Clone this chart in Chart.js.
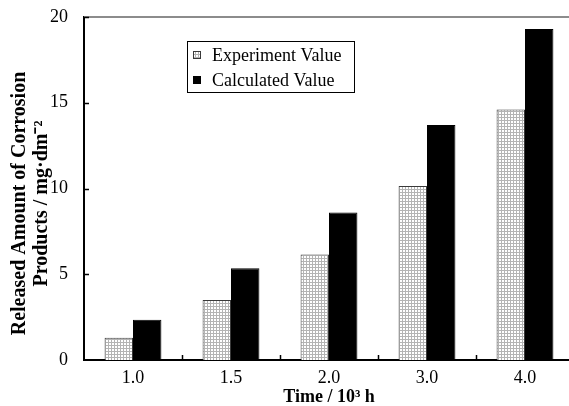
<!DOCTYPE html>
<html>
<head>
<meta charset="utf-8">
<script src="https://cdn.jsdelivr.net/npm/chart.js@4/dist/chart.umd.min.js"></script>
<style>
  html, body { margin: 0; padding: 0; background: #fff; overflow: hidden; }
  canvas { display: block; }
</style>
</head>
<body>
<canvas id="chart" width="574" height="406"></canvas>
<script>
const categories = ['1.0', '1.5', '2.0', '3.0', '4.0'];
const experimentValues = [1.3, 3.5, 6.15, 10.15, 14.6];
const calculatedValues = [2.35, 5.35, 8.6, 13.7, 19.3];
const yTicks = [0, 5, 10, 15, 20];

const serif = '"Liberation Serif", "Times New Roman", serif';

// fine grey grid hatch like the original
function gridPattern() {
  const c = document.createElement('canvas');
  c.width = 3; c.height = 3;
  const g = c.getContext('2d');
  g.fillStyle = '#ffffff';
  g.fillRect(0, 0, 3, 3);
  g.fillStyle = '#b4b4b4';
  g.fillRect(0, 0, 3, 1);
  g.fillRect(0, 0, 1, 3);
  return g.createPattern(c, 'repeat');
}
const ctx0 = document.getElementById('chart').getContext('2d');
const hatch = gridPattern();

const frame = {
  id: 'frame',
  afterDraw(chart) {
    const { ctx, chartArea: a, scales } = chart;
    ctx.save();
    // grey top line
    ctx.strokeStyle = '#8c8c8c';
    ctx.lineWidth = 2;
    ctx.beginPath();
    ctx.moveTo(a.left, a.top);
    ctx.lineTo(a.right, a.top);
    ctx.stroke();
    // inward ticks
    ctx.strokeStyle = '#000';
    ctx.lineWidth = 1.5;
    ctx.beginPath();
    const x = scales.x;
    for (let i = 0; i < categories.length - 1; i++) {
      const px = Math.round((x.getPixelForTick(i) + x.getPixelForTick(i + 1)) / 2) + 0.5;
      ctx.moveTo(px, a.bottom);
      ctx.lineTo(px, a.bottom - 5);
    }
    const y = scales.y;
    yTicks.slice(1).forEach(v => {
      const py = Math.round(y.getPixelForValue(v)) + 0.5;
      ctx.moveTo(a.left, py);
      ctx.lineTo(a.left + 5, py);
    });
    ctx.stroke();

    // legend box
    const lx = a.left + 103, ly = a.top + 24, lw = 167, lh = 51;
    ctx.fillStyle = '#fff';
    ctx.fillRect(lx, ly, lw, lh);
    ctx.lineWidth = 1;
    ctx.strokeStyle = '#000';
    ctx.strokeRect(lx + 0.5, ly + 0.5, lw, lh);
    ctx.font = '18px ' + serif;
    ctx.textBaseline = 'middle';
    chart.data.datasets.forEach((ds, i) => {
      const cy = ly + 14 + i * 25;
      ctx.fillStyle = ds.backgroundColor;
      ctx.fillRect(lx + 6, cy - 4, 8, 8);
      ctx.strokeStyle = ds.borderColor;
      ctx.strokeRect(lx + 6.5, cy - 3.5, 7, 7);
      ctx.fillStyle = '#000';
      ctx.fillText(ds.label, lx + 25, cy + 1);
    });
    ctx.restore();
  }
};

new Chart(ctx0, {
  type: 'bar',
  data: {
    labels: categories,
    datasets: [
      {
        label: 'Experiment Value',
        data: experimentValues,
        backgroundColor: hatch,
        borderColor: '#3a3a3a',
        borderWidth: 1,
        borderSkipped: 'bottom'
      },
      {
        label: 'Calculated Value',
        data: calculatedValues,
        backgroundColor: '#000',
        borderColor: '#000',
        borderWidth: 1,
        borderSkipped: 'bottom'
      }
    ]
  },
  options: {
    responsive: false,
    animation: false,
    events: [],
    categoryPercentage: 0.58,
    barPercentage: 1.0,
    layout: { padding: { top: 17, right: 0, left: 9, bottom: 0 } },
    plugins: {
      legend: { display: false },
      tooltip: { enabled: false }
    },
    scales: {
      x: {
        grid: { display: false, drawTicks: false },
        border: { color: '#000', width: 2 },
        ticks: { color: '#000', padding: 7, font: { family: serif, size: 18 } },
        title: {
          display: true,
          text: 'Time / 10³ h',
          color: '#000',
          padding: { top: 0, bottom: 0 },
          font: { family: serif, size: 18, weight: 'bold', lineHeight: 1.0 }
        },
        afterFit(s) { s.height = 46; }
      },
      y: {
        min: 0,
        max: 20,
        afterBuildTicks(s) { s.ticks = yTicks.map(v => ({ value: v })); },
        grid: { display: false, drawTicks: false },
        border: { color: '#000', width: 2 },
        ticks: { color: '#000', padding: 16, font: { family: serif, size: 18 } },
        title: {
          display: true,
          // trailing spaces nudge the rotated title down like the original
          text: ['Released Amount of Corrosion      ', 'Products / mg·dm⁻²      '],
          color: '#000',
          padding: { top: 0, bottom: 0 },
          font: { family: serif, size: 20, weight: 'bold', lineHeight: 1.1 }
        },
        afterFit(s) {
          s.width = 75;
          s.paddingTop = 0;
          s.paddingBottom = 0;
        }
      }
    }
  },
  plugins: [frame]
});
</script>
</body>
</html>
